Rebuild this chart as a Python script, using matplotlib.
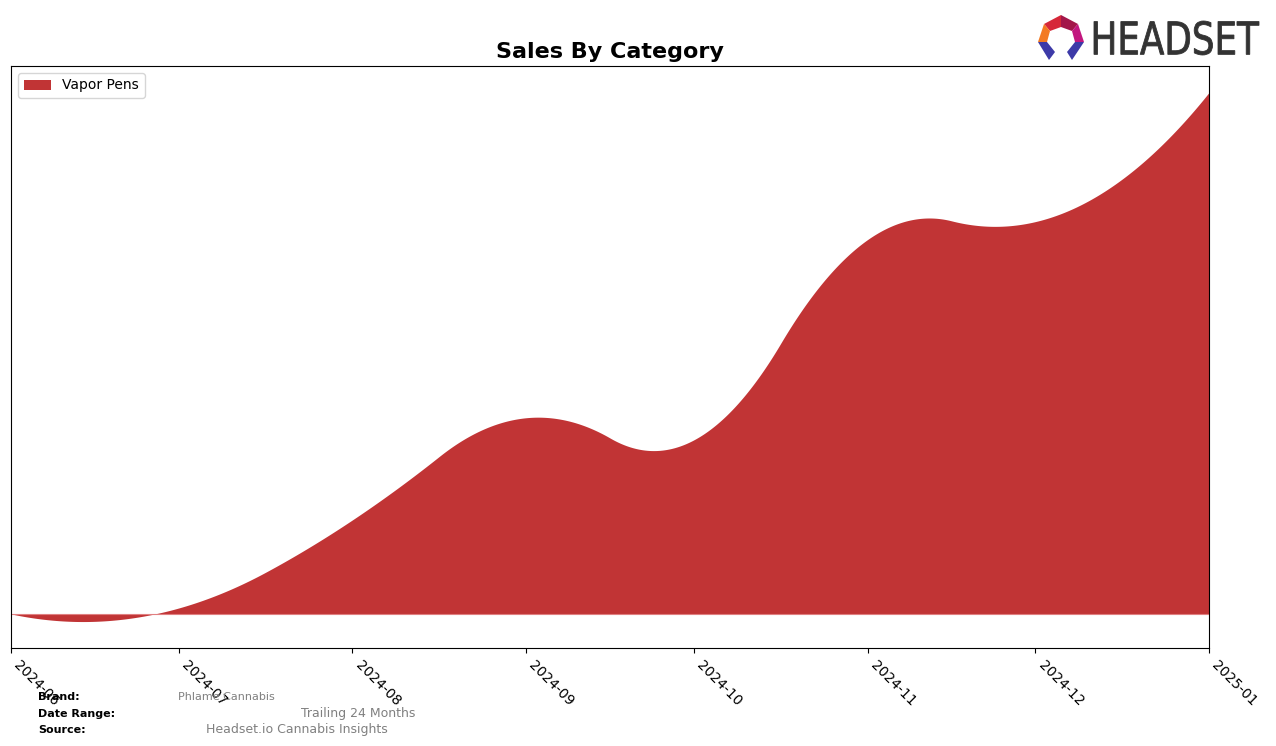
import numpy as np
import pandas as pd
import matplotlib
matplotlib.use("Agg")
import matplotlib.pyplot as plt
import matplotlib.dates as mdates
from matplotlib.patches import Polygon, PathPatch
from matplotlib.textpath import TextPath
from matplotlib.font_manager import FontProperties
from matplotlib.transforms import Affine2D

# datos mensuales (escala relativa)
meses = ["2024-06-01", "2024-07-01", "2024-08-01", "2024-09-01",
         "2024-10-01", "2024-11-01", "2024-12-01", "2025-01-01"]
vapor_pens = [0, 6, 94, 196, 174, 374, 392, 521]
etiquetas = ["2024-06", "2024-07", "2024-08", "2024-09",
             "2024-10", "2024-11", "2024-12", "2025-01"]
color_vapor = "#c13435"


def spline_cuadratico(x, y, xs):
  # spline cuadratico interpolante, nodos en los puntos medios
  # (sin el primero ni el ultimo), igual que make_interp_spline(k=2)
  x = np.asarray(x, float)
  y = np.asarray(y, float)
  n = len(x)
  medios = (x[1:] + x[:-1]) / 2
  bordes = np.r_[x[0], medios[1:-1], x[-1]]
  npz = len(bordes) - 1
  A = np.zeros((3 * npz, 3 * npz))
  b = np.zeros(3 * npz)
  fila = 0
  # continuidad de valor y derivada en los nodos interiores
  for j in range(npz - 1):
    d = bordes[j + 1] - bordes[j]
    A[fila, 3 * j:3 * j + 3] = [1, d, d * d]
    A[fila, 3 * (j + 1)] = -1
    fila += 1
    A[fila, 3 * j + 1:3 * j + 3] = [1, 2 * d]
    A[fila, 3 * (j + 1) + 1] = -1
    fila += 1
  # interpolacion
  for i in range(n):
    j = min(np.searchsorted(bordes, x[i], side="right") - 1, npz - 1)
    d = x[i] - bordes[j]
    A[fila, 3 * j:3 * j + 3] = [1, d, d * d]
    b[fila] = y[i]
    fila += 1
  coef = np.linalg.solve(A, b)
  j = np.clip(np.searchsorted(bordes, xs, side="right") - 1, 0, npz - 1)
  d = xs - bordes[j]
  return coef[3 * j] + coef[3 * j + 1] * d + coef[3 * j + 2] * d * d


fechas = pd.to_datetime(meses)
xn = mdates.date2num(fechas)
xs = np.linspace(xn[0], xn[-1], 800)
ys = spline_cuadratico(xn, vapor_pens, xs)

fig = plt.figure(figsize=(12.76, 7.46), dpi=100)
ax = fig.add_axes([11 / 1276, 1 - 648 / 746, 1198 / 1276, 582 / 746])

ax.fill_between(xs, 0, ys, color=color_vapor, linewidth=0, label="Vapor Pens")
ax.axhline(0, color="#e07f80", linewidth=0.8)
ax.set_xlim(xn[0], xn[-1])
ax.margins(y=0.05)
ax.set_yticks([])
ax.set_xticks(xn)
ax.set_xticklabels(etiquetas, rotation=-45, ha="left", fontsize=10)
ax.set_title("Sales By Category", fontsize=16, fontweight="bold")
ax.legend(loc="upper left", fontsize=10)

# pie de pagina
fig.text(38 / 1276, 1 - 697 / 746, "Brand:", fontsize=8, fontweight="bold", va="center")
fig.text(178 / 1276, 1 - 697 / 746, "Phlame Cannabis", fontsize=8, color="gray", va="center")
fig.text(38 / 1276, 1 - 714 / 746, "Date Range:", fontsize=8, fontweight="bold", va="center")
fig.text(301 / 1276, 1 - 714 / 746, "Trailing 24 Months", fontsize=9, color="gray", va="center")
fig.text(38 / 1276, 1 - 730 / 746, "Source:", fontsize=8, fontweight="bold", va="center")
fig.text(206 / 1276, 1 - 730 / 746, "Headset.io Cannabis Insights", fontsize=9, color="gray", va="center")

# logo
lax = fig.add_axes([0, 0, 1, 1], zorder=5)
lax.set_xlim(0, 1276)
lax.set_ylim(746, 0)
lax.axis("off")
piezas = [
  ([(1061, 15), (1044, 24), (1050, 31), (1061, 27)], "#d62839"),
  ([(1061, 15), (1078, 24), (1072, 31), (1061, 27)], "#a3174a"),
  ([(1044, 24), (1038, 42), (1047, 42), (1050, 31)], "#f37a22"),
  ([(1078, 24), (1084, 42), (1075, 42), (1072, 31)], "#c2177f"),
  ([(1038, 42), (1047, 42), (1055, 52), (1049, 60)], "#3d3aa8"),
  ([(1084, 42), (1075, 42), (1067, 52), (1072, 60)], "#3d3aa8"),
]
for pts, col in piezas:
  lax.add_patch(Polygon(pts, closed=True, color=col, linewidth=0))

tp = TextPath((0, 0), "HEADSET", size=10, prop=FontProperties(family="DejaVu Sans"))
ext = tp.get_extents()
sx = (1259 - 1094) / ext.width
sy = (55 - 21) / ext.height
tr = Affine2D().translate(-ext.x0, -ext.y0).scale(sx, -sy).translate(1094, 55)
lax.add_patch(PathPatch(tr.transform_path(tp), facecolor="#333333", edgecolor="#333333", linewidth=0.6))

fig.savefig("out.png", dpi=100)
